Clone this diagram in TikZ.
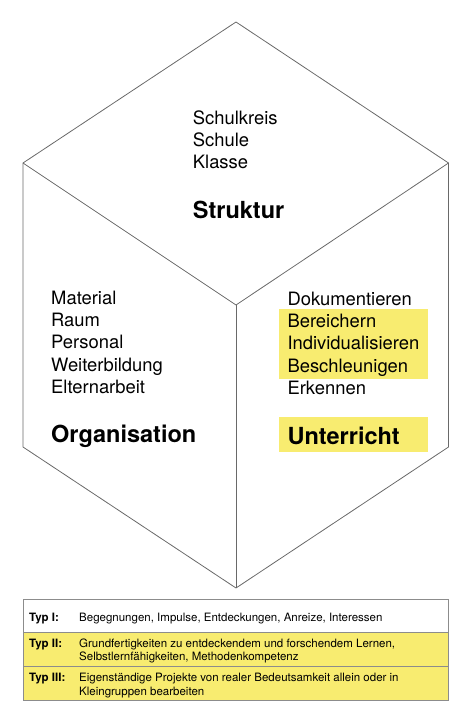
\documentclass[tikz,border=0pt]{standalone}
\usepackage{fontspec}
\setmainfont{TeX Gyre Heros}
\usetikzlibrary{positioning}
\definecolor{marker}{RGB}{248,236,112}
\definecolor{edgegray}{RGB}{105,105,105}
\definecolor{framegray}{RGB}{140,140,140}
\tikzset{
	face/.style={draw=edgegray, line width=0.8pt, line join=miter},
	frame/.style={draw=framegray, line width=0.8pt},
	item/.style={anchor=base west, inner sep=0pt, font=\fontsize{18.4}{22}\selectfont},
	title/.style={anchor=base west, inner sep=0pt, font=\fontsize{23.5}{28}\selectfont\bfseries},
	typ/.style={anchor=base west, inner sep=0pt, font=\fontsize{11.5}{13.5}\selectfont\bfseries},
	desc/.style={anchor=base west, inner sep=0pt, font=\fontsize{11.5}{13.5}\selectfont},
}

\begin{document}
\begin{tikzpicture}[x=1pt, y=-1pt]
	\useasboundingbox (0,0) rectangle (473,708);
	% cube corners
	\coordinate (TOP) at (236,22);
	\coordinate (LU) at (23,163);
	\coordinate (RU) at (448.5,163);
	\coordinate (MID) at (236,305);
	\coordinate (LL) at (23,447);
	\coordinate (RL) at (448.5,447);
	\coordinate (BOT) at (236,588);

	% highlights
	\fill[marker] (279,309) rectangle (428,379);
	\fill[marker] (279,417) rectangle (428,452);

	\draw[face] (TOP) -- (RU) -- (RL) -- (BOT) -- (LL) -- (LU) -- cycle;
	\draw[face] (LU) -- (MID) -- (RU);
	\draw[face] (MID) -- (BOT);

	% Struktur
	\foreach \w [count=\i from 0] in {Schulkreis,Schule,Klasse}
		\node[item] (struk\i) at (192.7,{124.3+22.1*\i}) {\w};
	\node[title] (STRUKTUR) at (192.7,218.3) {Struktur};

	% Organisation
	\foreach \w [count=\i from 0] in {Material,Raum,Personal,Weiterbildung,Elternarbeit}
		\node[item] (org\i) at (51,{304.2+22.3*\i}) {\w};
	\node[title] (ORGANISATION) at (51,442.3) {Organisation};

	% Unterricht
	\foreach \w [count=\i from 0] in {Dokumentieren,Bereichern,Individualisieren,Beschleunigen,Erkennen}
		\node[item] (unt\i) at (287.3,{305+22.4*\i}) {\w};
	\node[title] (UNTERRICHT) at (287.3,444) {Unterricht};

	% Tabelle
	\fill[white] (23,599) rectangle (448.5,632);
	\fill[marker] (23,632) rectangle (448.5,700);
	\draw[frame] (23,599) rectangle (448.5,700);
	\draw[frame] (23,632) -- (448.5,632);
	\draw[frame] (23,666) -- (448.5,666);

	\node[typ] (typ1) at (29,621) {Typ I:};
	\node[desc] (desc1) at (79,621) {Begegnungen, Impulse, Entdeckungen, Anreize, Interessen};
	\node[typ] (typ2) at (29,647) {Typ II:};
	\node[desc] (desc2a) at (79,647) {Grundfertigkeiten zu entdeckendem und forschendem Lernen,};
	\node[desc] (desc2b) at (79,660.7) {Selbstlernfähigkeiten, Methodenkompetenz};
	\node[typ] (typ3) at (29,681.5) {Typ III:};
	\node[desc] (desc3a) at (79,681.5) {Eigenständige Projekte von realer Bedeutsamkeit allein oder in};
	\node[desc] (desc3b) at (79,695) {Kleingruppen bearbeiten};
\end{tikzpicture}
\end{document}
